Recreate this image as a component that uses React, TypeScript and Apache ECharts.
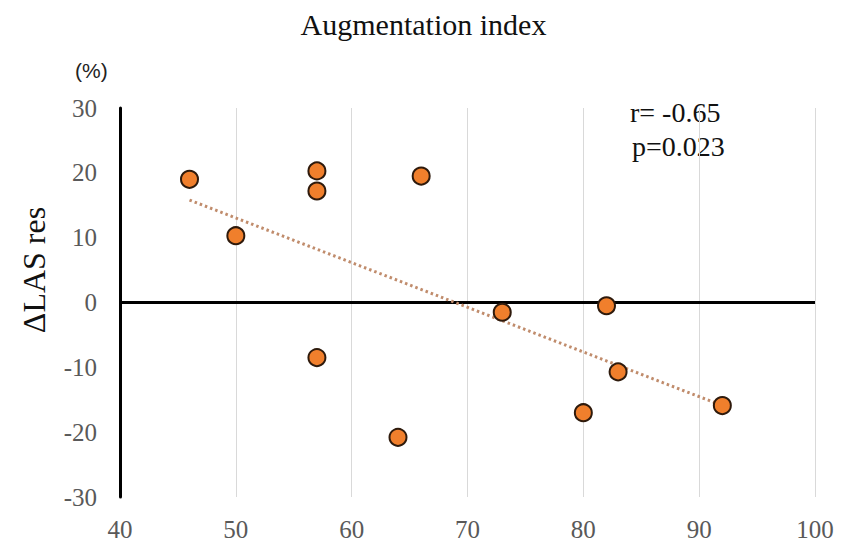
import React, { useEffect, useRef } from "react";
import * as echarts from "echarts";

const augmentationIndex = [46, 50, 57, 57, 66, 57, 64, 73, 82, 83, 80, 92];
const deltaLasRes = [19, 10.3, 20.3, 17.2, 19.5, -8.5, -20.8, -1.5, -0.5, -10.7, -17, -15.9];
const trendX = [46, 92];
const trendY = [15.8, -15.9];
const xTicks = { min: 40, max: 100, interval: 10 };
const yTicks = { min: -30, max: 30, interval: 10 };
const titleText = "Augmentation index";
const yName = "ΔLAS res";
const unitText = "(%)";
const statLines = ["r= -0.65", "p=0.023"];

const SERIF = "'Liberation Serif', 'Times New Roman', 'DejaVu Serif', serif";

export default function App() {
  const ref = useRef<HTMLDivElement>(null);
  useEffect(() => {
    if (!ref.current) return;
    const chart = echarts.init(ref.current, undefined, { renderer: "svg" });
    const points = augmentationIndex.map((x, i) => [x, deltaLasRes[i]]);
    const trend = trendX.map((x, i) => [x, trendY[i]]);
    chart.setOption({
      animation: false,
      backgroundColor: "#ffffff",
      grid: { left: 120, right: 32, top: 108, bottom: 45, containLabel: false },
      xAxis: {
        type: "value",
        min: xTicks.min,
        max: xTicks.max,
        interval: xTicks.interval,
        axisLine: { show: false },
        axisTick: { show: false },
        splitLine: { show: true, lineStyle: { color: "#d9d9d9", width: 1 } },
        axisLabel: { color: "#595959", fontSize: 25, fontFamily: SERIF, margin: 20 },
      },
      yAxis: {
        type: "value",
        min: yTicks.min,
        max: yTicks.max,
        interval: yTicks.interval,
        axisLine: { show: true, onZero: false, lineStyle: { color: "#000", width: 3 } },
        axisTick: { show: false },
        splitLine: { show: false },
        axisLabel: { color: "#595959", fontSize: 25, fontFamily: SERIF, margin: 23 },
      },
      series: [
        {
          type: "line",
          data: trend,
          showSymbol: false,
          symbol: "none",
          silent: true,
          z: 3,
          lineStyle: { color: "#c08c6c", width: 3, type: [2.5, 3], cap: "butt" },
          markLine: {
            silent: true,
            symbol: "none",
            label: { show: false },
            lineStyle: { color: "#000", width: 3, type: "solid" },
            data: [{ yAxis: 0 }],
            z: 2,
          },
        },
        {
          type: "scatter",
          data: points,
          symbol: "circle",
          symbolSize: 17,
          z: 5,
          itemStyle: { color: "#f07f2c", opacity: 1, borderColor: "#2e1a0c", borderWidth: 2 },
        },
      ],
      graphic: [
        {
          type: "text",
          left: "center",
          x: 0,
          top: 9,
          style: { text: titleText, font: `30px ${SERIF}`, fill: "#111" },
        },
        {
          type: "text",
          x: 75,
          y: 70,
          style: {
            text: unitText,
            font: `21px 'Liberation Sans', Arial, sans-serif`,
            fill: "#222",
            verticalAlign: "middle",
          },
        },
        {
          type: "text",
          x: 630,
          y: 112,
          style: { text: statLines[0], font: `28px ${SERIF}`, fill: "#111", verticalAlign: "middle" },
        },
        {
          type: "text",
          x: 632,
          y: 146,
          style: { text: statLines[1], font: `28px ${SERIF}`, fill: "#111", verticalAlign: "middle" },
        },
        {
          type: "text",
          x: 34,
          y: 270,
          rotation: Math.PI / 2,
          style: {
            text: yName,
            font: `32px ${SERIF}`,
            fill: "#111",
            align: "center",
            verticalAlign: "middle",
          },
        },
      ],
    });
    return () => chart.dispose();
  }, []);
  return (
    <div
      ref={ref}
      style={{ position: "fixed", left: 0, top: 0, width: 847, height: 542, background: "#fff" }}
    />
  );
}
